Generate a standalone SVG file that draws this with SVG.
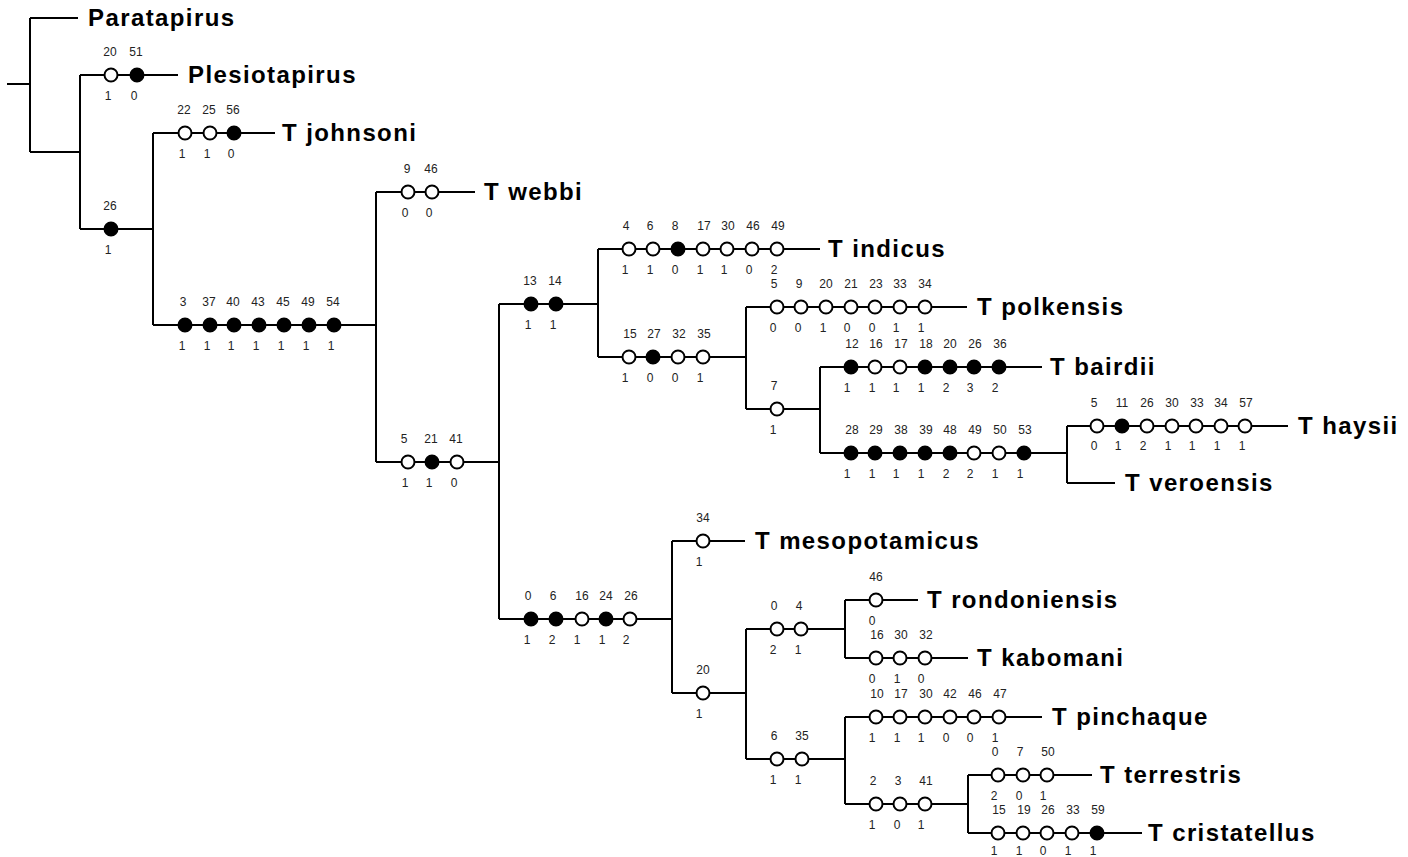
<svg xmlns="http://www.w3.org/2000/svg" width="1408" height="857" viewBox="0 0 1408 857">
<style>
.ln{stroke:#000;stroke-width:2;fill:none}
.o{fill:#fff;stroke:#000;stroke-width:2}
.f{fill:#000;stroke:#000;stroke-width:2}
.t{font-family:"Liberation Sans",Arial,sans-serif;font-weight:bold;font-size:24px;letter-spacing:1.4px;fill:#000}
.a{font-family:"Liberation Sans",Arial,sans-serif;font-size:12px;fill:#222;text-anchor:middle}
</style>
<rect width="1408" height="857" fill="#fff"/>
<g id="connectors" class="ln">
<path d="M7,84H30M30,18V152M30,18H78M30,152H80M80,75V229"/>
<path d="M80,75H178M80,229H153M153,133V325M153,133H275"/>
<path d="M153,325H376M376,192V462M376,192H475M376,462H499M499,304V619"/>
<path d="M499,304H598M598,249V357M598,249H820M598,357H746M746,307V409M746,307H967"/>
<path d="M746,409H820M820,367V453M820,367H1042M820,453H1067M1067,426V483M1067,426H1288M1067,483H1115"/>
<path d="M499,619H672M672,541V693M672,541H745M672,693H746M746,629V759"/>
<path d="M746,629H845M845,600V658M845,600H918M845,658H968"/>
<path d="M746,759H845M845,717V804M845,717H1042M845,804H968M968,775V833M968,775H1092M968,833H1142"/>
</g>
<g id="taxa" class="t">
<text id="paratapirus" x="88" y="26">Paratapirus</text>
<text id="plesiotapirus" x="188" y="83">Plesiotapirus</text>
<text id="johnsoni" x="282" y="141">T johnsoni</text>
<text id="webbi" x="484" y="200">T webbi</text>
<text id="indicus" x="828" y="257">T indicus</text>
<text id="polkensis" x="977" y="315">T polkensis</text>
<text id="bairdii" x="1050" y="375">T bairdii</text>
<text id="haysii" x="1298" y="434">T haysii</text>
<text id="veroensis" x="1125" y="491">T veroensis</text>
<text id="mesopotamicus" x="755" y="549">T mesopotamicus</text>
<text id="rondoniensis" x="927" y="608">T rondoniensis</text>
<text id="kabomani" x="977" y="666">T kabomani</text>
<text id="pinchaque" x="1052" y="725">T pinchaque</text>
<text id="terrestris" x="1100" y="783">T terrestris</text>
<text id="cristatellus" x="1148" y="841">T cristatellus</text>
</g>
<g id="b-plesio">
<circle class="o" cx="111" cy="75" r="6.5"/><circle class="f" cx="137" cy="75" r="6.5"/>
<g class="a"><text x="110" y="56">20</text><text x="136" y="56">51</text><text x="108" y="100">1</text><text x="134" y="100">0</text></g>
</g>
<g id="b-26">
<circle class="f" cx="111" cy="229" r="6.5"/>
<g class="a"><text x="110" y="210">26</text><text x="108" y="254">1</text></g>
</g>
<g id="b-johnsoni">
<circle class="o" cx="185" cy="133" r="6.5"/><circle class="o" cx="210" cy="133" r="6.5"/><circle class="f" cx="234" cy="133" r="6.5"/>
<g class="a"><text x="184" y="114">22</text><text x="209" y="114">25</text><text x="233" y="114">56</text><text x="182" y="158">1</text><text x="207" y="158">1</text><text x="231" y="158">0</text></g>
</g>
<g id="b-tapirus">
<circle class="f" cx="185" cy="325" r="6.5"/><circle class="f" cx="210" cy="325" r="6.5"/><circle class="f" cx="234" cy="325" r="6.5"/><circle class="f" cx="259" cy="325" r="6.5"/><circle class="f" cx="284" cy="325" r="6.5"/><circle class="f" cx="309" cy="325" r="6.5"/><circle class="f" cx="334" cy="325" r="6.5"/>
<g class="a"><text x="183" y="306">3</text><text x="209" y="306">37</text><text x="233" y="306">40</text><text x="258" y="306">43</text><text x="283" y="306">45</text><text x="308" y="306">49</text><text x="333" y="306">54</text>
<text x="182" y="350">1</text><text x="207" y="350">1</text><text x="231" y="350">1</text><text x="256" y="350">1</text><text x="281" y="350">1</text><text x="306" y="350">1</text><text x="331" y="350">1</text></g>
</g>
<g id="b-webbi">
<circle class="o" cx="408" cy="192" r="6.5"/><circle class="o" cx="432" cy="192" r="6.5"/>
<g class="a"><text x="407" y="173">9</text><text x="431" y="173">46</text><text x="405" y="217">0</text><text x="429" y="217">0</text></g>
</g>
<g id="b-462">
<circle class="o" cx="408" cy="462" r="6.5"/><circle class="f" cx="432" cy="462" r="6.5"/><circle class="o" cx="457" cy="462" r="6.5"/>
<g class="a"><text x="404" y="443">5</text><text x="431" y="443">21</text><text x="456" y="443">41</text><text x="405" y="487">1</text><text x="429" y="487">1</text><text x="454" y="487">0</text></g>
</g>
<g id="b-304">
<circle class="f" cx="531" cy="304" r="6.5"/><circle class="f" cx="556" cy="304" r="6.5"/>
<g class="a"><text x="530" y="285">13</text><text x="555" y="285">14</text><text x="528" y="329">1</text><text x="553" y="329">1</text></g>
</g>
<g id="b-indicus">
<circle class="o" cx="629" cy="249" r="6.5"/><circle class="o" cx="653" cy="249" r="6.5"/><circle class="f" cx="678" cy="249" r="6.5"/><circle class="o" cx="703" cy="249" r="6.5"/><circle class="o" cx="727" cy="249" r="6.5"/><circle class="o" cx="752" cy="249" r="6.5"/><circle class="o" cx="777" cy="249" r="6.5"/>
<g class="a"><text x="626" y="230">4</text><text x="650" y="230">6</text><text x="675" y="230">8</text><text x="704" y="230">17</text><text x="728" y="230">30</text><text x="753" y="230">46</text><text x="778" y="230">49</text>
<text x="625" y="274">1</text><text x="650" y="274">1</text><text x="675" y="274">0</text><text x="700" y="274">1</text><text x="724" y="274">1</text><text x="749" y="274">0</text><text x="774" y="274">2</text></g>
</g>
<g id="b-357">
<circle class="o" cx="629" cy="357" r="6.5"/><circle class="f" cx="653" cy="357" r="6.5"/><circle class="o" cx="678" cy="357" r="6.5"/><circle class="o" cx="703" cy="357" r="6.5"/>
<g class="a"><text x="630" y="338">15</text><text x="654" y="338">27</text><text x="679" y="338">32</text><text x="704" y="338">35</text><text x="625" y="382">1</text><text x="650" y="382">0</text><text x="675" y="382">0</text><text x="700" y="382">1</text></g>
</g>
<g id="b-polkensis">
<circle class="o" cx="777" cy="307" r="6.5"/><circle class="o" cx="801" cy="307" r="6.5"/><circle class="o" cx="826" cy="307" r="6.5"/><circle class="o" cx="851" cy="307" r="6.5"/><circle class="o" cx="875" cy="307" r="6.5"/><circle class="o" cx="900" cy="307" r="6.5"/><circle class="o" cx="925" cy="307" r="6.5"/>
<g class="a"><text x="774" y="288">5</text><text x="799" y="288">9</text><text x="826" y="288">20</text><text x="851" y="288">21</text><text x="876" y="288">23</text><text x="900" y="288">33</text><text x="925" y="288">34</text>
<text x="773" y="332">0</text><text x="798" y="332">0</text><text x="823" y="332">1</text><text x="847" y="332">0</text><text x="872" y="332">0</text><text x="896" y="332">1</text><text x="921" y="332">1</text></g>
</g>
<g id="b-7">
<circle class="o" cx="777" cy="409" r="6.5"/>
<g class="a"><text x="774" y="390">7</text><text x="773" y="434">1</text></g>
</g>
<g id="b-bairdii">
<circle class="f" cx="851" cy="367" r="6.5"/><circle class="o" cx="875" cy="367" r="6.5"/><circle class="o" cx="900" cy="367" r="6.5"/><circle class="f" cx="925" cy="367" r="6.5"/><circle class="f" cx="950" cy="367" r="6.5"/><circle class="f" cx="974" cy="367" r="6.5"/><circle class="f" cx="999" cy="367" r="6.5"/>
<g class="a"><text x="852" y="348">12</text><text x="876" y="348">16</text><text x="901" y="348">17</text><text x="926" y="348">18</text><text x="950" y="348">20</text><text x="975" y="348">26</text><text x="1000" y="348">36</text>
<text x="847" y="392">1</text><text x="872" y="392">1</text><text x="896" y="392">1</text><text x="921" y="392">1</text><text x="946" y="392">2</text><text x="970" y="392">3</text><text x="995" y="392">2</text></g>
</g>
<g id="b-453">
<circle class="f" cx="851" cy="453" r="6.5"/><circle class="f" cx="875" cy="453" r="6.5"/><circle class="f" cx="900" cy="453" r="6.5"/><circle class="f" cx="925" cy="453" r="6.5"/><circle class="f" cx="950" cy="453" r="6.5"/><circle class="o" cx="974" cy="453" r="6.5"/><circle class="o" cx="999" cy="453" r="6.5"/><circle class="f" cx="1024" cy="453" r="6.5"/>
<g class="a"><text x="852" y="434">28</text><text x="876" y="434">29</text><text x="901" y="434">38</text><text x="926" y="434">39</text><text x="950" y="434">48</text><text x="975" y="434">49</text><text x="1000" y="434">50</text><text x="1025" y="434">53</text>
<text x="847" y="478">1</text><text x="872" y="478">1</text><text x="896" y="478">1</text><text x="921" y="478">1</text><text x="946" y="478">2</text><text x="970" y="478">2</text><text x="995" y="478">1</text><text x="1020" y="478">1</text></g>
</g>
<g id="b-haysii">
<circle class="o" cx="1097" cy="426" r="6.5"/><circle class="f" cx="1122" cy="426" r="6.5"/><circle class="o" cx="1147" cy="426" r="6.5"/><circle class="o" cx="1172" cy="426" r="6.5"/><circle class="o" cx="1196" cy="426" r="6.5"/><circle class="o" cx="1221" cy="426" r="6.5"/><circle class="o" cx="1245" cy="426" r="6.5"/>
<g class="a"><text x="1094" y="407">5</text><text x="1122" y="407">11</text><text x="1147" y="407">26</text><text x="1172" y="407">30</text><text x="1197" y="407">33</text><text x="1221" y="407">34</text><text x="1246" y="407">57</text>
<text x="1094" y="450">0</text><text x="1118" y="450">1</text><text x="1143" y="450">2</text><text x="1168" y="450">1</text><text x="1192" y="450">1</text><text x="1217" y="450">1</text><text x="1242" y="450">1</text></g>
</g>
<g id="b-619">
<circle class="f" cx="531" cy="619" r="6.5"/><circle class="f" cx="556" cy="619" r="6.5"/><circle class="o" cx="582" cy="619" r="6.5"/><circle class="f" cx="606" cy="619" r="6.5"/><circle class="o" cx="630" cy="619" r="6.5"/>
<g class="a"><text x="528" y="600">0</text><text x="553" y="600">6</text><text x="582" y="600">16</text><text x="606" y="600">24</text><text x="631" y="600">26</text>
<text x="527" y="644">1</text><text x="552" y="644">2</text><text x="577" y="644">1</text><text x="602" y="644">1</text><text x="626" y="644">2</text></g>
</g>
<g id="b-meso">
<circle class="o" cx="703" cy="541" r="6.5"/>
<g class="a"><text x="703" y="522">34</text><text x="699" y="566">1</text></g>
</g>
<g id="b-693">
<circle class="o" cx="703" cy="693" r="6.5"/>
<g class="a"><text x="703" y="674">20</text><text x="699" y="718">1</text></g>
</g>
<g id="b-629">
<circle class="o" cx="777" cy="629" r="6.5"/><circle class="o" cx="801" cy="629" r="6.5"/>
<g class="a"><text x="774" y="610">0</text><text x="799" y="610">4</text><text x="773" y="654">2</text><text x="798" y="654">1</text></g>
</g>
<g id="b-rond">
<circle class="o" cx="876" cy="600" r="6.5"/>
<g class="a"><text x="876" y="581">46</text><text x="872" y="625">0</text></g>
</g>
<g id="b-kab">
<circle class="o" cx="876" cy="658" r="6.5"/><circle class="o" cx="900" cy="658" r="6.5"/><circle class="o" cx="925" cy="658" r="6.5"/>
<g class="a"><text x="877" y="639">16</text><text x="901" y="639">30</text><text x="926" y="639">32</text><text x="872" y="683">0</text><text x="897" y="683">1</text><text x="921" y="683">0</text></g>
</g>
<g id="b-759">
<circle class="o" cx="777" cy="759" r="6.5"/><circle class="o" cx="802" cy="759" r="6.5"/>
<g class="a"><text x="774" y="740">6</text><text x="802" y="740">35</text><text x="773" y="784">1</text><text x="798" y="784">1</text></g>
</g>
<g id="b-pinch">
<circle class="o" cx="876" cy="717" r="6.5"/><circle class="o" cx="900" cy="717" r="6.5"/><circle class="o" cx="925" cy="717" r="6.5"/><circle class="o" cx="950" cy="717" r="6.5"/><circle class="o" cx="974" cy="717" r="6.5"/><circle class="o" cx="999" cy="717" r="6.5"/>
<g class="a"><text x="877" y="698">10</text><text x="901" y="698">17</text><text x="926" y="698">30</text><text x="950" y="698">42</text><text x="975" y="698">46</text><text x="1000" y="698">47</text>
<text x="872" y="742">1</text><text x="897" y="742">1</text><text x="921" y="742">1</text><text x="946" y="742">0</text><text x="970" y="742">0</text><text x="995" y="742">1</text></g>
</g>
<g id="b-804">
<circle class="o" cx="876" cy="804" r="6.5"/><circle class="o" cx="900" cy="804" r="6.5"/><circle class="o" cx="925" cy="804" r="6.5"/>
<g class="a"><text x="873" y="785">2</text><text x="898" y="785">3</text><text x="926" y="785">41</text><text x="872" y="829">1</text><text x="897" y="829">0</text><text x="921" y="829">1</text></g>
</g>
<g id="b-terr">
<circle class="o" cx="998" cy="775" r="6.5"/><circle class="o" cx="1023" cy="775" r="6.5"/><circle class="o" cx="1047" cy="775" r="6.5"/>
<g class="a"><text x="995" y="756">0</text><text x="1020" y="756">7</text><text x="1048" y="756">50</text><text x="994" y="800">2</text><text x="1019" y="800">0</text><text x="1043" y="800">1</text></g>
</g>
<g id="b-crist">
<circle class="o" cx="998" cy="833" r="6.5"/><circle class="o" cx="1023" cy="833" r="6.5"/><circle class="o" cx="1047" cy="833" r="6.5"/><circle class="o" cx="1072" cy="833" r="6.5"/><circle class="f" cx="1097" cy="833" r="6.5"/>
<g class="a"><text x="999" y="814">15</text><text x="1024" y="814">19</text><text x="1048" y="814">26</text><text x="1073" y="814">33</text><text x="1098" y="814">59</text>
<text x="994" y="855">1</text><text x="1019" y="855">1</text><text x="1043" y="855">0</text><text x="1068" y="855">1</text><text x="1093" y="855">1</text></g>
</g>
</svg>
